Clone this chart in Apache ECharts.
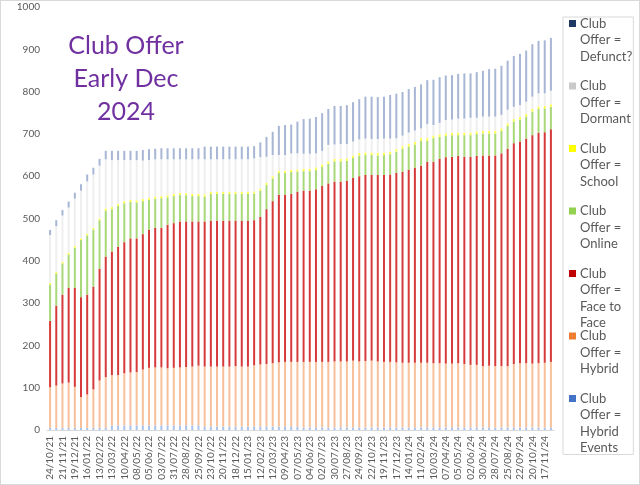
<!DOCTYPE html>
<html>
<head>
<meta charset="utf-8">
<script src="https://cdn.jsdelivr.net/npm/echarts@6/dist/echarts.min.js"></script>
<style>
html, body { margin: 0; padding: 0; background: #fff; }
#wrap { position: relative; width: 640px; height: 485px; }
#chartDom { width: 640px; height: 485px; }
#frame { position: absolute; left: 0; top: 0; width: 640px; height: 485px; box-sizing: border-box; border: 1px solid #d9d9d9; pointer-events: none; }
</style>
</head>
<body>
<div id="wrap">
  <div id="chartDom"></div>
  <div id="frame"></div>
</div>
<script>
// fortnightly snapshots
const dates = ['24/10/21','07/11/21','21/11/21','05/12/21','19/12/21','02/01/22','16/01/22','30/01/22','13/02/22','27/02/22',
  '13/03/22','27/03/22','10/04/22','24/04/22','08/05/22','22/05/22','05/06/22','19/06/22','03/07/22','17/07/22',
  '31/07/22','14/08/22','28/08/22','11/09/22','25/09/22','09/10/22','23/10/22','06/11/22','20/11/22','04/12/22',
  '18/12/22','01/01/23','15/01/23','29/01/23','12/02/23','26/02/23','12/03/23','26/03/23','09/04/23','23/04/23',
  '07/05/23','21/05/23','04/06/23','18/06/23','02/07/23','16/07/23','30/07/23','13/08/23','27/08/23','10/09/23',
  '24/09/23','08/10/23','22/10/23','05/11/23','19/11/23','03/12/23','17/12/23','31/12/23','14/01/24','28/01/24',
  '11/02/24','25/02/24','10/03/24','24/03/24','07/04/24','21/04/24','05/05/24','19/05/24','02/06/24','16/06/24',
  '30/06/24','14/07/24','28/07/24','11/08/24','25/08/24','08/09/24','22/09/24','06/10/24','20/10/24','03/11/24',
  '17/11/24','01/12/24'];

const hybridEvents = [5,5,5,5,5,5,5,5,5,5,
  11,11,11,11,11,11,11,11,11,11,
  11,11,11,11,11,8,8,8,8,8,
  8,8,8,8,8,8,8,8,8,8,
  8,6,6,6,6,6,6,6,6,6,
  6,6,6,6,6,6,6,6,6,6,
  6,6,6,6,6,6,6,6,6,6,
  6,6,6,6,6,6,6,6,6,6,
  6,6];
const hybrid = [96,100,105,107,97,73,79,91,112,120,
  119,119,123,125,126,132,136,137,137,135,
  136,137,138,139,141,142,142,142,142,142,
  143,142,142,145,147,148,150,152,153,153,
  153,155,155,155,155,155,156,156,156,158,
  156,157,158,156,155,155,154,153,153,153,
  153,153,152,152,151,151,152,150,148,148,
  145,146,145,145,145,150,152,152,151,152,
  153,155];
const faceToFace = [157,189,210,224,234,236,236,243,264,285,
  292,303,310,317,316,320,326,330,330,339,
  342,345,344,343,341,343,345,345,345,345,
  344,345,345,343,349,366,383,396,395,397,
  402,405,405,408,416,422,425,425,427,432,
  438,440,439,441,442,443,448,451,456,461,
  466,475,476,483,488,489,490,490,492,494,
  498,497,498,503,514,522,524,531,540,545,
  545,550];
const online = [86,76,74,79,95,135,140,135,115,109,
  100,97,92,86,85,78,71,69,70,65,
  64,63,62,60,60,59,63,63,63,63,
  63,63,63,63,62,57,54,52,52,52,
  48,46,46,46,45,46,48,48,47,47,
  49,47,47,46,47,48,50,55,55,55,
  59,50,56,52,50,51,49,51,51,52,
  52,52,52,53,54,51,52,52,56,56,
  56,53];
const school = [4,4,4,4,4,4,4,4,4,5,
  5,5,5,5,5,5,5,5,5,5,
  5,5,5,5,5,5,5,5,5,5,
  5,5,5,5,5,5,5,5,5,5,
  5,6,6,6,6,6,6,6,6,6,
  6,6,6,6,6,6,6,6,6,6,
  6,6,6,6,6,6,6,6,6,6,
  6,6,6,6,6,6,6,6,6,6,
  6,6];
const dormant = [113,108,109,107,112,113,124,126,125,116,
  111,103,97,94,95,91,89,88,87,85,
  82,79,80,82,82,83,77,77,77,77,
  77,77,77,78,74,62,50,37,37,39,
  38,35,35,33,32,39,34,35,34,33,
  32,33,32,33,33,31,26,25,27,27,
  23,33,25,27,32,31,33,33,35,32,
  34,34,34,32,32,29,28,29,29,31,
  30,32];
const defunct = [12,14,13,14,14,15,16,16,16,20,
  22,22,22,22,22,25,26,25,26,26,
  26,26,26,26,26,30,30,30,30,30,
  30,30,30,29,35,47,55,69,71,68,
  75,82,83,86,89,85,91,90,92,93,
  95,99,100,99,99,103,105,103,103,103,
  104,104,107,108,105,105,106,107,105,108,
  108,112,113,116,116,120,121,121,124,124,
  125,125];

const seriesNames = ['Club\nOffer =\nHybrid\nEvents', 'Club\nOffer =\nHybrid', 'Club\nOffer =\nFace to\nFace',
  'Club\nOffer =\nOnline', 'Club\nOffer =\nSchool', 'Club\nOffer =\nDormant', 'Club\nOffer =\nDefunct?'];
const seriesData = [hybridEvents, hybrid, faceToFace, online, school, dormant, defunct];
const barColors = ['#a9c2ec', '#f7c09a', '#d63a3a', '#a8d878', '#ffff50', '#efefef', '#a6b6d4'];
const keyColors = ['#4472c4', '#ed7d31', '#c00000', '#92d050', '#ffff00', '#c9c9c9', '#1f3864'];

const font = 'Lato, "Open Sans", sans-serif';

const rich = {
  t: { fontSize: 13, lineHeight: 16.5, color: '#595959', fontFamily: font },
  sp: { width: 4, height: 7 },
  g: { width: 11, height: 7 }
};
keyColors.forEach((c, i) => { rich['m' + i] = { width: 7, height: 7, backgroundColor: c }; });

const option = {
  animation: false,
  backgroundColor: '#fff',
  textStyle: { fontFamily: font },
  title: {
    text: 'Club Offer\nEarly Dec\n2024',
    left: 121,
    top: 24,
    textAlign: 'center',
    textStyle: { color: '#7030a0', fontSize: 25, fontWeight: 'normal', lineHeight: 33, fontFamily: font }
  },
  legend: {
    orient: 'vertical',
    left: 563,
    top: 17,
    padding: [0, 1, 0, 1],
    itemGap: 0,
    itemWidth: 0,
    itemHeight: 0,
    icon: 'none',
    borderColor: '#d9d9d9',
    borderWidth: 1,
    selectedMode: false,
    data: seriesNames.slice().reverse(),
    textStyle: { rich: rich },
    formatter: function (name) {
      const i = seriesNames.indexOf(name);
      const lines = name.split('\n');
      let s = '{m' + i + '|}{sp|}{t|' + lines[0] + '}';
      for (let k = 1; k < lines.length; k++) s += '\n{g|}{t|' + lines[k] + '}';
      for (let k = lines.length; k < 4; k++) s += '\n{t| }';
      return s;
    }
  },
  grid: { left: 47, right: 86, top: 7, bottom: 55, containLabel: false },
  xAxis: {
    type: 'category',
    data: dates,
    axisTick: { show: false },
    axisLine: { lineStyle: { color: '#d9d9d9' } },
    axisLabel: { rotate: 90, interval: 1, fontSize: 10, color: '#595959', margin: 6 }
  },
  yAxis: {
    type: 'value',
    min: 0,
    max: 1000,
    interval: 100,
    splitLine: { show: false },
    axisLine: { show: false },
    axisTick: { show: false },
    axisLabel: { fontSize: 10, color: '#595959', margin: 7, formatter: function (v) { return String(v); } }
  },
  series: seriesData.map((d, i) => ({
    name: seriesNames[i],
    type: 'bar',
    stack: 'total',
    barWidth: 2,
    data: d,
    itemStyle: { color: barColors[i] },
    emphasis: { disabled: true }
  }))
};

var myChart = echarts.init(document.getElementById('chartDom'));
myChart.setOption(option);
</script>
</body>
</html>
